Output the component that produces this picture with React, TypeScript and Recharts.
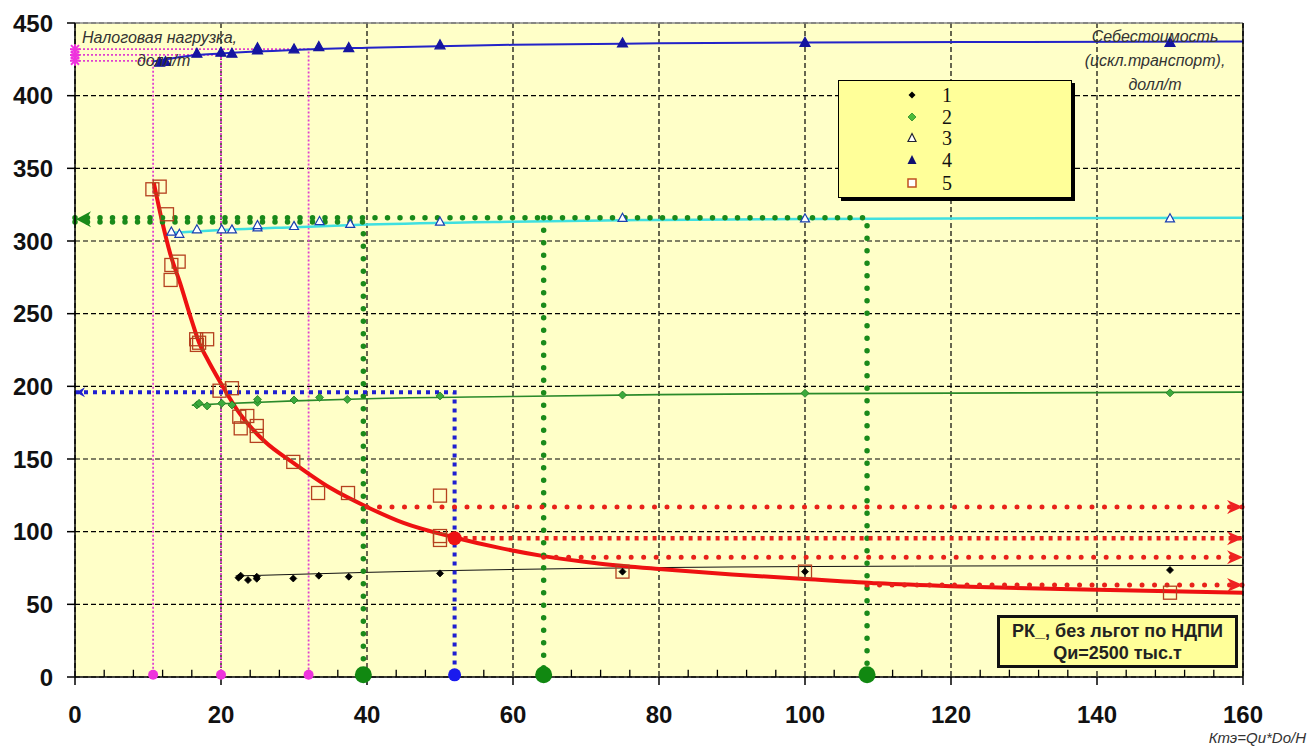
import React from "react";
import {
  CartesianGrid,
  ComposedChart,
  Line,
  ReferenceLine,
  Scatter,
  XAxis,
  YAxis,
} from "recharts";

// axis ticks
const xTicks = [0, 20, 40, 60, 80, 100, 120, 140, 160];
const xMinorTicks = [4, 8, 12, 16, 24, 28, 32, 36, 44, 48, 52, 56, 64, 68, 72, 76, 84, 88, 92, 96, 104, 108, 112, 116, 124, 128, 132, 136, 144, 148, 152, 156];
const leftTicks = [0, 50, 100, 150, 200, 250, 300, 350, 400, 450];
const rightTicks = [0, 25, 50, 75, 100, 125, 150, 175, 200, 225];

// series 1 (black diamonds) + trend
const s1X = [22.4, 22.7, 23.7, 24.9, 24.9, 29.9, 33.4, 37.5, 50, 75, 100, 150];
const s1Y = [68.3, 69.7, 66.7, 69, 67.6, 67.8, 69.7, 69, 71.3, 72.5, 72.5, 73.6];
const t1X = [22, 30, 40, 60, 80, 100, 130, 160];
const t1Y = [69.5, 70.6, 72, 74, 75.3, 76, 76.5, 76.8];

// series 2 (green diamonds) + trend
const s2X = [16.7, 17, 18.1, 20.1, 21.5, 25, 25, 30, 33.5, 37.3, 50, 75, 100, 150];
const s2Y = [187.2, 188.3, 186.5, 188.3, 187.2, 189, 191, 190.6, 192.4, 191, 193.4, 194, 195.2, 195.5];
const t2X = [16, 20, 30, 40, 60, 80, 100, 130, 160];
const t2Y = [187, 188, 190, 191.5, 193, 194.3, 195, 195.5, 196];

// series 3 (open triangles) + trend
const s3X = [13.2, 14.3, 16.7, 20.1, 21.5, 25, 25, 30, 33.5, 37.7, 50, 75, 100, 150];
const s3Y = [306.5, 305, 308.1, 308.1, 308, 309.4, 311, 310.4, 313.8, 311.8, 313.4, 316, 315.6, 315.6];
const t3X = [13, 20, 30, 40, 60, 80, 100, 130, 160];
const t3Y = [305.5, 307.5, 309.5, 311.3, 313.3, 314.5, 315.2, 315.6, 316];

// series 4 (filled triangles) + trend
const s4X = [11.6, 12.4, 16.7, 20, 21.5, 25, 25, 30, 33.4, 37.5, 50, 75, 100, 150];
const s4Y = [423, 423.5, 429.2, 429.9, 429.2, 431.5, 433, 432.2, 433.8, 433.1, 435, 436.3, 436.7, 436.7];
const t4X = [10.7, 15, 20, 30, 40, 60, 80, 100, 130, 160];
const t4Y = [423.5, 427, 429, 431.5, 433, 435, 436, 436.6, 437, 437.3];

// series 5 (open squares) + fitted red curve
const s5X = [10.6, 11.6, 12.6, 13.2, 13.1, 14.2, 16.6, 16.7, 17, 18.1, 19.8, 21.5, 22.5, 22.7, 23.6, 24.9, 24.9, 29.9, 33.3, 37.4, 50, 50, 50, 75, 100, 150];
const s5Y = [335.6, 337.4, 318.4, 283.5, 273.2, 285.8, 232.4, 228.5, 230, 232.4, 197, 198.7, 179.1, 171.1, 179.6, 172.7, 165.9, 148, 126.6, 126.6, 124.8, 94.3, 97, 72.5, 72.5, 58];
const curveX = [10.8, 12, 13, 14.4, 16, 17, 18, 20, 22.6, 26, 30, 35, 40, 45, 52, 58, 64.4, 72, 80, 90, 100, 110, 120, 135, 150, 160];
const curveY = [340, 312, 292, 271, 245, 230, 220, 202, 181, 162, 147, 130, 117, 106, 96, 89, 83, 78, 74.3, 70.5, 67.5, 64.5, 62.5, 60.5, 59, 58];

// guide lines
const greenGuideA = { x: [0, 39.5, 39.5], y: [313, 313, 0] };
const greenGuideB = { x: [0, 108.5, 108.5], y: [316, 316, 0] };
const greenGuideC = { x: [64.2, 64.2], y: [316, 0] };
const blueGuide = { x: [0, 52, 52], y: [196, 196, 0] };
const redGuides = [
  { x: [40, 160], y: [117, 117] },
  { x: [64.2, 160], y: [82.4, 82.4] },
  { x: [108.5, 160], y: [63.3, 63.3] },
];
const redGuideDense = { x: [52, 160], y: [95.5, 95.5] };
const magentaGuides = [
  { x: [0, 10.7, 10.7], y: [424, 424, 0] },
  { x: [0, 20, 20], y: [428, 428, 0] },
  { x: [0, 32, 32], y: [432, 432, 0] },
];

// markers
const magentaFootX = [10.7, 20, 32];
const greenFootX = [39.5, 64.2, 108.5];
const blueFootX = [52];
const redArrowY = [117, 95.5, 82.4, 63.3];
const magentaStarY = [424, 428, 432];
const redDot = { x: [52], y: [95.5] };

const legendLabels = ["1", "2", "3", "4", "5"];

const pts = (xs: number[], ys: number[]) => xs.map((x, i) => ({ x, y: ys[i] }));

const diamond = (fill: string, stroke: string, r: number) => (p: any) => (
  <path
    d={`M${p.cx},${p.cy - r}L${p.cx + r},${p.cy}L${p.cx},${p.cy + r}L${p.cx - r},${p.cy}Z`}
    fill={fill}
    stroke={stroke}
    strokeWidth={0.8}
  />
);
const triangle = (fill: string, stroke: string, r: number) => (p: any) => (
  <path
    d={`M${p.cx},${p.cy - r}L${p.cx + r},${p.cy + r * 0.8}L${p.cx - r},${p.cy + r * 0.8}Z`}
    fill={fill}
    stroke={stroke}
    strokeWidth={1.2}
  />
);
const square = (p: any) => (
  <rect x={p.cx - 6.5} y={p.cy - 6.5} width={13} height={13} fill="none" stroke="#b5411f" strokeWidth={1.3} />
);
const circle = (fill: string, r: number) => (p: any) => <circle cx={p.cx} cy={p.cy} r={r} fill={fill} />;
const leftArrow = (fill: string, len: number, h: number) => (p: any) => (
  <path
    d={`M${p.cx + 1},${p.cy}L${p.cx + len},${p.cy - h}L${p.cx + len * 0.7},${p.cy}L${p.cx + len},${p.cy + h}Z`}
    fill={fill}
  />
);
const rightArrow = (p: any) => (
  <path
    d={`M${p.cx},${p.cy}L${p.cx - 16},${p.cy - 7}L${p.cx - 11},${p.cy}L${p.cx - 16},${p.cy + 7}Z`}
    fill="#ee2222"
  />
);
const star = (p: any) => (
  <g stroke="#ee33dd" strokeWidth={2}>
    <line x1={p.cx - 5} y1={p.cy} x2={p.cx + 5} y2={p.cy} />
    <line x1={p.cx} y1={p.cy - 5} x2={p.cx} y2={p.cy + 5} />
    <line x1={p.cx - 4} y1={p.cy - 4} x2={p.cx + 4} y2={p.cy + 4} />
    <line x1={p.cx - 4} y1={p.cy + 4} x2={p.cx + 4} y2={p.cy - 4} />
  </g>
);

const tickFont = { fontSize: 24, fontWeight: 700, fill: "#111", fontFamily: "'Liberation Sans', Arial, sans-serif" };
const italic: React.CSSProperties = {
  position: "absolute",
  fontFamily: "'Liberation Sans', Arial, sans-serif",
  fontStyle: "italic",
  fontSize: 16,
  color: "#333",
  lineHeight: "24px",
  whiteSpace: "nowrap",
};

function LegendMark({ kind }: { kind: number }) {
  return (
    <svg width={14} height={14} style={{ display: "block" }}>
      {kind === 0 && <path d="M7,3.5L10.5,7L7,10.5L3.5,7Z" fill="#000" />}
      {kind === 1 && <path d="M7,3L11,7L7,11L3,7Z" fill="#4cbb3a" stroke="#2a8a2a" strokeWidth={0.8} />}
      {kind === 2 && <path d="M7,2.5L11,10.5L3,10.5Z" fill="#fff" stroke="#223" strokeWidth={1.2} />}
      {kind === 3 && <path d="M7,2L11.5,11L2.5,11Z" fill="#101070" />}
      {kind === 4 && <rect x={3} y={3} width={8} height={8} fill="#fff" stroke="#c0501f" strokeWidth={1.5} />}
    </svg>
  );
}

export default function App() {
  const guide = (g: { x: number[]; y: number[] }, key: string, stroke: string, width: number, dash: string, cap: "round" | "butt") => (
    <Line
      key={key}
      yAxisId="left"
      data={pts(g.x, g.y)}
      dataKey="y"
      type="linear"
      stroke={stroke}
      strokeWidth={width}
      strokeDasharray={dash}
      strokeLinecap={cap}
      dot={false}
      activeDot={false}
      isAnimationActive={false}
    />
  );

  return (
    <div style={{ position: "relative", width: 1310, height: 747, background: "#fff" }}>
      <style>{"body{margin:0}"}</style>
      <ComposedChart width={1310} height={747} margin={{ top: 23, right: 0, bottom: 0, left: 0 }}>
        <CartesianGrid
          yAxisId="left"
          fill="#ffffc8"
          fillOpacity={1}
          stroke="#000"
          strokeWidth={1.2}
          strokeDasharray="5 3"
        />
        <XAxis
          type="number"
          dataKey="x"
          domain={[0, 160]}
          ticks={xTicks}
          interval={0}
          height={70}
          tickSize={8}
          tickMargin={21}
          tick={tickFont}
          axisLine={{ stroke: "#000", strokeWidth: 1.5 }}
          tickLine={{ stroke: "#000", strokeWidth: 1.5 }}
        />
        <YAxis
          yAxisId="left"
          type="number"
          dataKey="y"
          domain={[0, 450]}
          ticks={leftTicks}
          interval={0}
          width={75}
          tickSize={8}
          tickMargin={14}
          tick={tickFont}
          axisLine={{ stroke: "#000", strokeWidth: 1.5 }}
          tickLine={{ stroke: "#000", strokeWidth: 1.5 }}
        />
        <YAxis
          yAxisId="right"
          orientation="right"
          type="number"
          domain={[0, 225]}
          ticks={rightTicks}
          interval={0}
          width={67}
          tickSize={9}
          tickMargin={11}
          tick={{ ...tickFont, textAnchor: "start" }}
          axisLine={{ stroke: "#000", strokeWidth: 1.5 }}
          tickLine={{ stroke: "#000", strokeWidth: 1.5 }}
        />
        <ReferenceLine yAxisId="left" y={450} stroke="#888" strokeWidth={1.5} />
        {xMinorTicks.map((v) => (
          <ReferenceLine
            key={`m${v}`}
            yAxisId="left"
            segment={[{ x: v, y: 0 }, { x: v, y: 5 }]}
            stroke="#000"
            strokeWidth={1.3}
          />
        ))}

        {magentaGuides.map((g, i) => guide(g, `mg${i}`, "#e040d0", 1.8, "2 2", "butt"))}

        <Line yAxisId="left" data={pts(t1X, t1Y)} dataKey="y" type="monotone" stroke="#111" strokeWidth={1} dot={false} activeDot={false} isAnimationActive={false} />
        <Line yAxisId="left" data={pts(t2X, t2Y)} dataKey="y" type="monotone" stroke="#2a8a2a" strokeWidth={1.6} dot={false} activeDot={false} isAnimationActive={false} />
        <Line yAxisId="left" data={pts(t3X, t3Y)} dataKey="y" type="monotone" stroke="#3fe0e0" strokeWidth={2.5} dot={false} activeDot={false} isAnimationActive={false} />
        <Line yAxisId="left" data={pts(t4X, t4Y)} dataKey="y" type="monotone" stroke="#2424c8" strokeWidth={2} dot={false} activeDot={false} isAnimationActive={false} />

        <Scatter yAxisId="left" data={pts(s1X, s1Y)} shape={diamond("#000", "#000", 3.5)} isAnimationActive={false} />
        <Scatter yAxisId="left" data={pts(s2X, s2Y)} shape={diamond("#3caa3c", "#1f7a1f", 4)} isAnimationActive={false} />
        <Scatter yAxisId="left" data={pts(s3X, s3Y)} shape={triangle("#fff", "#1a3fb0", 4.5)} isAnimationActive={false} />
        <Scatter yAxisId="left" data={pts(s4X, s4Y)} shape={triangle("#1515a0", "#1515a0", 5)} isAnimationActive={false} />
        <Scatter yAxisId="left" data={pts(s5X, s5Y)} shape={square} isAnimationActive={false} />

        <Line yAxisId="left" data={pts(curveX, curveY)} dataKey="y" type="monotone" stroke="#ee1111" strokeWidth={4} dot={false} activeDot={false} isAnimationActive={false} />

        {guide(greenGuideA, "gA", "#1a8a1a", 5.5, "0 12.5", "round")}
        {guide(greenGuideB, "gB", "#1a8a1a", 5.5, "0 12.5", "round")}
        {guide(greenGuideC, "gC", "#1a8a1a", 5.5, "0 12.5", "round")}
        {guide(blueGuide, "bG", "#1f1fd0", 4, "4 5", "butt")}
        {redGuides.map((g, i) => guide(g, `rg${i}`, "#e8221a", 5, "0 12.5", "round"))}
        {guide(redGuideDense, "rgD", "#e8221a", 4.5, "4 5", "butt")}

        <Scatter yAxisId="left" data={magentaFootX.map((x) => ({ x, y: 1.5 }))} shape={circle("#ee33dd", 5)} isAnimationActive={false} />
        <Scatter yAxisId="left" data={greenFootX.map((x) => ({ x, y: 1.5 }))} shape={circle("#118811", 8.5)} isAnimationActive={false} />
        <Scatter yAxisId="left" data={blueFootX.map((x) => ({ x, y: 1.5 }))} shape={circle("#1a1aee", 6.5)} isAnimationActive={false} />
        <Scatter yAxisId="left" data={pts(redDot.x, redDot.y)} shape={circle("#ee1111", 7)} isAnimationActive={false} />
        <Scatter yAxisId="left" data={[{ x: 0, y: 315 }]} shape={leftArrow("#1a8a1a", 16, 8)} isAnimationActive={false} />
        <Scatter yAxisId="left" data={[{ x: 0, y: 196 }]} shape={leftArrow("#1f1fd0", 10, 5)} isAnimationActive={false} />
        <Scatter yAxisId="left" data={magentaStarY.map((y) => ({ x: 0, y }))} shape={star} isAnimationActive={false} />
        <Scatter yAxisId="left" data={redArrowY.map((y) => ({ x: 160, y }))} shape={rightArrow} isAnimationActive={false} />
      </ComposedChart>

      <div style={{ ...italic, left: 82, top: 26 }}>Налоговая нагрузка,</div>
      <div style={{ ...italic, left: 137, top: 49 }}>долл/т</div>
      <div style={{ ...italic, left: 1155, top: 25, transform: "translateX(-50%)", textAlign: "center" }}>
        Себестоимость
        <br />
        (искл.транспорт),
        <br />
        долл/т
      </div>
      <div style={{ ...italic, fontSize: 15, right: 4, top: 727, lineHeight: "22px" }}>Ктэ=Qu*Do/H</div>

      <div
        style={{
          position: "absolute",
          left: 838,
          top: 80,
          width: 234,
          height: 118,
          boxSizing: "border-box",
          background: "#ffff99",
          border: "1.5px solid #000",
          boxShadow: "3px 3px 0 #000",
        }}
      >
        {legendLabels.map((label, i) => (
          <div
            key={label}
            style={{
              position: "absolute",
              left: 66,
              top: [14, 36, 57, 79, 102][i] - 10,
              height: 20,
              display: "flex",
              alignItems: "center",
              fontFamily: "'Liberation Serif', 'Times New Roman', serif",
              fontSize: 20,
              lineHeight: "20px",
              color: "#111",
            }}
          >
            <LegendMark kind={i} />
            <span style={{ marginLeft: 23, lineHeight: "20px" }}>{label}</span>
          </div>
        ))}
      </div>

      <div
        style={{
          position: "absolute",
          left: 997,
          top: 615,
          width: 241,
          height: 53,
          boxSizing: "border-box",
          background: "#ffff99",
          border: "3px solid #111",
          display: "flex",
          flexDirection: "column",
          alignItems: "center",
          justifyContent: "center",
          fontFamily: "'Liberation Sans', Arial, sans-serif",
          fontWeight: 700,
          fontSize: 18,
          lineHeight: "22px",
          color: "#222",
        }}
      >
        <div>РК_, без льгот по НДПИ</div>
        <div>Qи=2500 тыс.т</div>
      </div>
    </div>
  );
}
